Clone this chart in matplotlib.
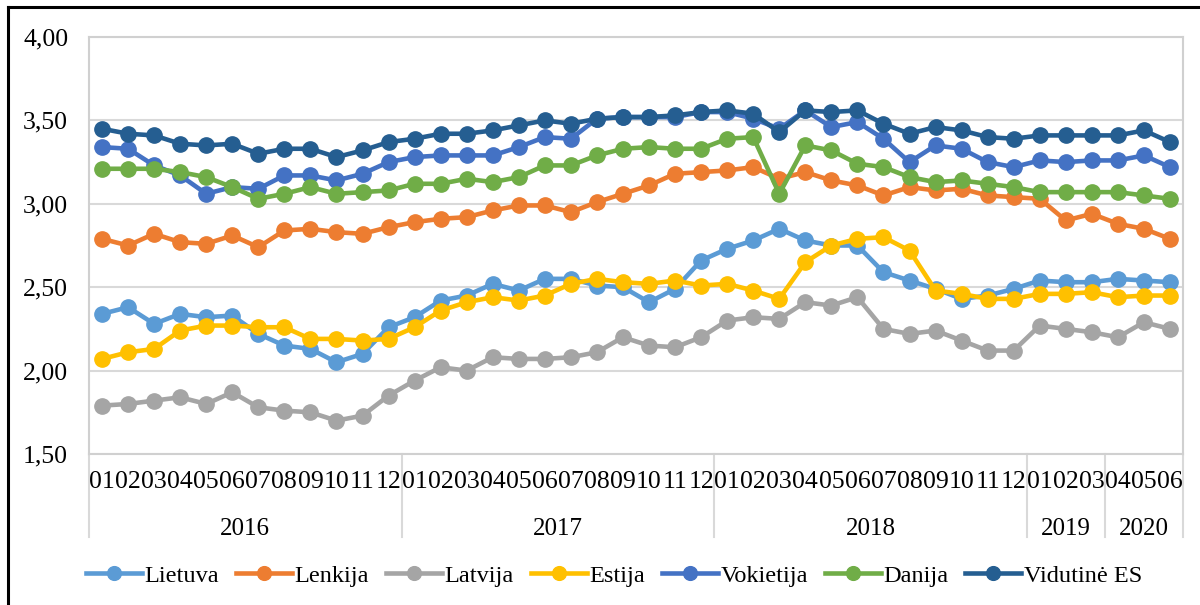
import matplotlib
matplotlib.use("Agg")
import matplotlib.pyplot as plt
import matplotlib.transforms as mtrans
from matplotlib.lines import Line2D

plt.rcParams['font.family'] = ['Liberation Serif', 'DejaVu Serif']

# month labels and year groups
months = ['01', '02', '03', '04', '05', '06', '07', '08', '09', '10', '11', '12'] * 3 \
    + ['01', '02', '03'] + ['04', '05', '06']
years = ['2016', '2017', '2018', '2019', '2020']
year_counts = [12, 12, 12, 3, 3]

lietuva = [2.34, 2.38, 2.28, 2.34, 2.32, 2.33, 2.22, 2.15, 2.13, 2.05, 2.10, 2.26,
           2.32, 2.42, 2.45, 2.52, 2.48, 2.55, 2.55, 2.51, 2.50, 2.41, 2.49, 2.66,
           2.73, 2.78, 2.85, 2.78, 2.75, 2.75, 2.59, 2.54, 2.49, 2.43, 2.45, 2.49,
           2.54, 2.53, 2.53, 2.55, 2.54, 2.53]
lenkija = [2.79, 2.75, 2.82, 2.77, 2.76, 2.81, 2.74, 2.84, 2.85, 2.83, 2.82, 2.86,
           2.89, 2.91, 2.92, 2.96, 2.99, 2.99, 2.95, 3.01, 3.06, 3.11, 3.18, 3.19,
           3.20, 3.22, 3.15, 3.19, 3.14, 3.11, 3.05, 3.10, 3.08, 3.09, 3.05, 3.04,
           3.03, 2.90, 2.94, 2.88, 2.85, 2.79]
latvija = [1.79, 1.80, 1.82, 1.84, 1.80, 1.87, 1.78, 1.76, 1.75, 1.70, 1.73, 1.85,
           1.94, 2.02, 2.00, 2.08, 2.07, 2.07, 2.08, 2.11, 2.20, 2.15, 2.14, 2.20,
           2.30, 2.32, 2.31, 2.41, 2.39, 2.44, 2.25, 2.22, 2.24, 2.18, 2.12, 2.12,
           2.27, 2.25, 2.23, 2.20, 2.29, 2.25]
estija = [2.07, 2.11, 2.13, 2.24, 2.27, 2.27, 2.26, 2.26, 2.19, 2.19, 2.18, 2.19,
          2.26, 2.36, 2.41, 2.44, 2.42, 2.45, 2.52, 2.55, 2.53, 2.52, 2.54, 2.51,
          2.52, 2.48, 2.43, 2.65, 2.75, 2.79, 2.80, 2.72, 2.48, 2.46, 2.43, 2.43,
          2.46, 2.46, 2.47, 2.44, 2.45, 2.45]
vokietija = [3.34, 3.33, 3.23, 3.17, 3.06, 3.10, 3.09, 3.17, 3.17, 3.14, 3.18, 3.25,
             3.28, 3.29, 3.29, 3.29, 3.34, 3.40, 3.39, 3.51, 3.52, 3.52, 3.52, 3.55,
             3.55, 3.51, 3.45, 3.56, 3.46, 3.49, 3.39, 3.25, 3.35, 3.33, 3.25, 3.22,
             3.26, 3.25, 3.26, 3.26, 3.29, 3.22]
danija = [3.21, 3.21, 3.21, 3.19, 3.16, 3.10, 3.03, 3.06, 3.10, 3.06, 3.07, 3.08,
          3.12, 3.12, 3.15, 3.13, 3.16, 3.23, 3.23, 3.29, 3.33, 3.34, 3.33, 3.33,
          3.39, 3.40, 3.06, 3.35, 3.32, 3.24, 3.22, 3.16, 3.13, 3.14, 3.12, 3.10,
          3.07, 3.07, 3.07, 3.07, 3.05, 3.03]
vidutine_es = [3.45, 3.42, 3.41, 3.36, 3.35, 3.36, 3.30, 3.33, 3.33, 3.28, 3.32, 3.37,
               3.39, 3.42, 3.42, 3.44, 3.47, 3.50, 3.48, 3.51, 3.52, 3.52, 3.53, 3.55,
               3.56, 3.54, 3.43, 3.56, 3.55, 3.56, 3.48, 3.42, 3.46, 3.44, 3.40, 3.39,
               3.41, 3.41, 3.41, 3.41, 3.44, 3.37]

series_names = ['Lietuva', 'Lenkija', 'Latvija', 'Estija', 'Vokietija', 'Danija', 'Vidutinė ES']
series_data = [lietuva, lenkija, latvija, estija, vokietija, danija, vidutine_es]
series_colors = ['#5B9BD5', '#ED7D31', '#A5A5A5', '#FFC000', '#4472C4', '#70AD47', '#255E91']

fig = plt.figure(figsize=(12, 6.05), dpi=100)
# black frame of the chart object: only left and top edges are in the picture
fx = 8 / 1200
fy = 1 - 7 / 605
fig.add_artist(Line2D([fx, fx], [0, fy], transform=fig.transFigure, color='black', linewidth=2.2))
fig.add_artist(Line2D([fx, 1], [fy, fy], transform=fig.transFigure, color='black', linewidth=2.2))

ax = fig.add_axes([89 / 1200, 1 - 454 / 605, (1183 - 89) / 1200, (454 - 37) / 605])

x = list(range(len(months)))
for name, vals, col in zip(series_names, series_data, series_colors):
    ax.plot(x, vals, color=col, linewidth=3.3, marker='o', markersize=11,
            label=name, solid_joinstyle='round')

ax.set_xlim(-0.5, len(months) - 0.5)
ax.set_ylim(1.5, 4.0)
yt = [1.5, 2.0, 2.5, 3.0, 3.5, 4.0]
ax.set_yticks(yt)
ax.set_yticklabels([f'{v:.2f}'.replace('.', ',') for v in yt], fontsize=18.5)
ax.tick_params(axis='y', length=0, pad=15)
ax.grid(axis='y', color='#D9D9D9', linewidth=1.5)
ax.set_axisbelow(True)
for s in ax.spines.values():
    s.set_color('#D0D0D0')
    s.set_linewidth(1.5)

ax.set_xticks(x)
ax.set_xticklabels(months, fontsize=18.5)
ax.tick_params(axis='x', length=0, pad=12)

# year level of the category axis
tr = mtrans.blended_transform_factory(ax.transData, ax.transAxes)
start = 0
sep_positions = [-0.5]
for yr, n in zip(years, year_counts):
    mid = start + (n - 1) / 2
    ax.text(mid, -0.18, yr, transform=tr, ha='center', va='center', fontsize=18)
    start += n
    sep_positions.append(start - 0.5)
for sx in sep_positions:
    ax.plot([sx, sx], [0, -0.20], transform=tr, color='#D9D9D9', linewidth=1.5,
            clip_on=False)

ax.legend(loc='center', bbox_to_anchor=(0.48, -0.292), ncol=7, frameon=False,
          fontsize=17.5, handlelength=2.3, handletextpad=0.1, columnspacing=0.7,
          borderaxespad=0, markerscale=0.9)

fig.savefig('out.png', dpi=100)
